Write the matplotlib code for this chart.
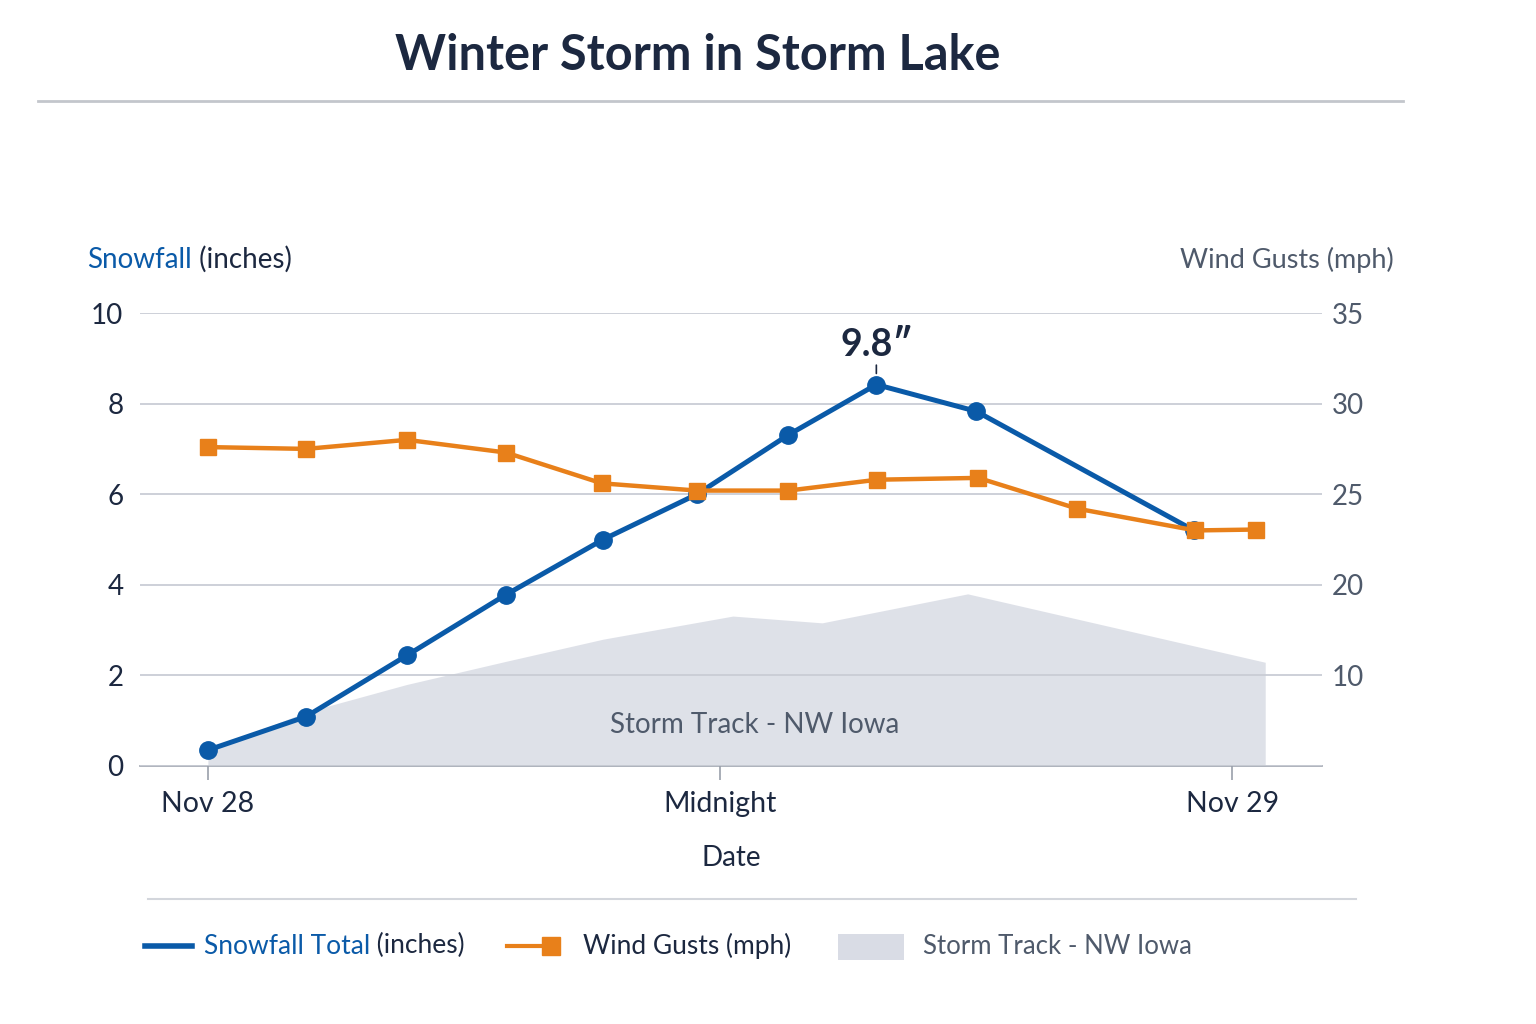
import matplotlib.pyplot as plt
from matplotlib.lines import Line2D
from matplotlib.patches import Rectangle

# -------------------------------------------------------------------
# Data (hours from Nov 28 start)
# -------------------------------------------------------------------
snow_hours = [0, 2.3, 4.66, 6.98, 9.26, 11.46, 13.6, 15.66, 18.0, 23.1]
snow_inches = [0.35, 1.09, 2.44, 3.78, 5.0, 6.0, 7.31, 8.42, 7.83, 5.2]

wind_hours = [0, 2.3, 4.66, 6.98, 9.23, 11.46, 13.6, 15.68, 18.05, 20.37, 23.13, 24.56]
wind_mph = [27.6, 27.5, 28.0, 27.3, 25.6, 25.2, 25.2, 25.8, 25.9, 24.2, 23.0, 23.05]

track_hours = [0, 2.3, 4.66, 6.98, 9.26, 12.3, 14.39, 17.8, 24.77]
track_level = [0.35, 1.19, 1.8, 2.31, 2.8, 3.31, 3.16, 3.8, 2.29]

date_ticks = [0, 12, 24]
date_labels = ["Nov 28", "Midnight", "Nov 29"]

snow_ticks = [0, 2, 4, 6, 8, 10]
wind_ticks = [15, 20, 25, 30, 35]
wind_tick_labels = ["10", "20", "25", "30", "35"]

peak_label = "9.8\u2033"

# -------------------------------------------------------------------
# Style
# -------------------------------------------------------------------
BLUE = "#0a5aa8"
ORANGE = "#e8801a"
FILL = "#d9dce5"
DARK = "#1c2840"
GRAY = "#4f5a6b"
GRID = "#c9cdd5"

plt.rcParams["font.family"] = ["Lato", "DejaVu Sans"]

W, H = 1536, 1024
fig = plt.figure(figsize=(W / 100, H / 100), dpi=100)


def fx(px):
    return px / W


def fy(py):
    return 1 - py / H


ax = fig.add_axes([fx(140), fy(766), fx(1322) - fx(140), fy(313) - fy(766)])
ax2 = ax.twinx()

# storm track area
ax.fill_between(track_hours, track_level, 0, color=FILL, alpha=0.85,
                linewidth=0, zorder=1)
ax.text(12.8, 0.9, "Storm Track - NW Iowa", ha="center", va="center",
        fontsize=20, color=GRAY, zorder=2)

# snowfall line
ax.plot(snow_hours, snow_inches, color=BLUE, lw=3.6, marker="o",
        markersize=12.5, zorder=4)

ax.set_xlim(-1.59, 26.1)
ax.set_ylim(0, 10)
ax.set_yticks(snow_ticks)
ax.set_xticks(date_ticks)
ax.set_xticklabels(date_labels)
ax.grid(axis="y", color=GRID, lw=1.3, zorder=2)
ax.set_axisbelow(False)
ax.tick_params(axis="y", length=0, pad=12, labelsize=20, labelcolor=DARK)
ax.tick_params(axis="x", length=10, width=1.2, color="#9aa0aa", pad=8,
               labelsize=20.5, labelcolor=DARK)
for side in ["top", "left", "right"]:
    ax.spines[side].set_visible(False)
ax.spines["bottom"].set_color("#a9aeb8")
ax.spines["bottom"].set_linewidth(1.3)
ax.set_xlabel("Date", fontsize=20, color=DARK, labelpad=20)

# peak annotation
peak_i = snow_inches.index(max(snow_inches))
ax.annotate(peak_label, xy=(snow_hours[peak_i], snow_inches[peak_i]),
            xytext=(0, 16), textcoords="offset points", ha="center",
            va="bottom", fontsize=27, fontweight="bold", color=DARK,
            arrowprops=dict(arrowstyle="-", color=DARK, lw=1.2,
                            shrinkA=0, shrinkB=8), annotation_clip=False)

# wind gusts line
ax2.plot(wind_hours, wind_mph, color=ORANGE, lw=3.2, marker="s",
         markersize=12, zorder=3)
ax2.set_ylim(10, 35)
ax2.set_yticks(wind_ticks)
ax2.set_yticklabels(wind_tick_labels)
ax2.tick_params(axis="y", length=0, pad=7, labelsize=20, labelcolor=GRAY)
for side in ["top", "left", "right", "bottom"]:
    ax2.spines[side].set_visible(False)

# axis titles
t1 = fig.text(fx(87), fy(260), "Snowfall", fontsize=20, color=BLUE,
              va="center", ha="left")
ax.annotate(" (inches)", xycoords=t1, xy=(1, 0), va="bottom", ha="left",
            fontsize=20, color=DARK)
fig.text(fx(1394), fy(260), "Wind Gusts (mph)", fontsize=19.5, color=GRAY,
         va="center", ha="right")

# title and rules
fig.text(fx(698), fy(55), "Winter Storm in Storm Lake", fontsize=35,
         fontweight="bold", color=DARK, ha="center", va="center")
fig.add_artist(Line2D([fx(38), fx(1403)], [fy(101), fy(101)],
                      color="#c3c6cc", lw=2))
fig.add_artist(Line2D([fx(148), fx(1356)], [fy(899), fy(899)],
                      color="#d3d6dc", lw=1.5))

# legend
ly = fy(946)
fig.add_artist(Line2D([fx(145), fx(192)], [ly, ly], color=BLUE, lw=4))
t2 = fig.text(fx(204), ly, "Snowfall Total", fontsize=19, color=BLUE,
              va="center", ha="left")
ax.annotate(" (inches)", xycoords=t2, xy=(1, 0), va="bottom", ha="left",
            fontsize=19, color=DARK)
fig.add_artist(Line2D([fx(507), fx(545)], [ly, ly], color=ORANGE, lw=3))
fig.add_artist(Line2D([fx(551)], [ly], color=ORANGE, marker="s",
                      markersize=13, lw=0))
fig.text(fx(583), ly, "Wind Gusts (mph)", fontsize=19, color=DARK,
         va="center", ha="left")
fig.add_artist(Rectangle((fx(838), fy(960)), fx(904) - fx(838),
                         fy(934) - fy(960), color=FILL, lw=0))
fig.text(fx(923), ly, "Storm Track - NW Iowa", fontsize=18.5, color=GRAY,
         va="center", ha="left")

fig.savefig("out.png", dpi=100, facecolor="white")
